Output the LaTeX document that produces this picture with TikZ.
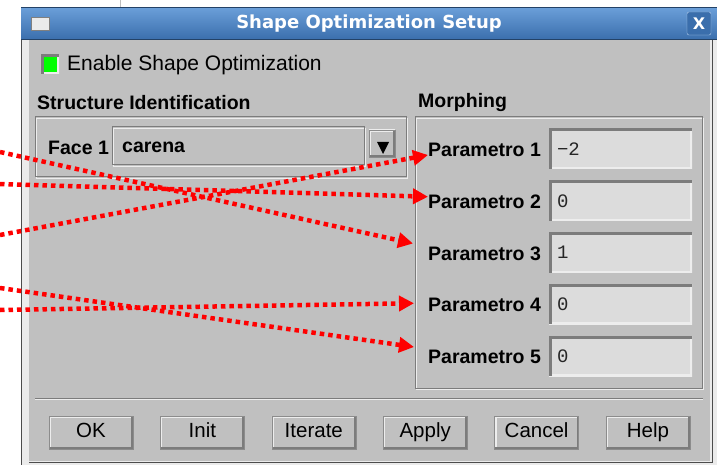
\documentclass[tikz,border=0pt]{standalone}
\usepackage{fontspec}
\setmainfont{Liberation Sans}
\setmonofont{Liberation Mono}
\newfontfamily\titlefont{DejaVu Sans}
\usepackage{tikz}
\usetikzlibrary{arrows.meta}
\usepackage{xcolor}
\definecolor{winbg}{HTML}{C0C0C0}
\definecolor{fieldbg}{HTML}{DCDCDC}
\definecolor{bevdark}{HTML}{7C7C7C}
\definecolor{bevlight}{HTML}{EDEDED}
\definecolor{titletop}{HTML}{6A9ED8}
\definecolor{titlebot}{HTML}{3A6EAC}
\definecolor{arrowred}{HTML}{FF0000}
\tikzset{
  raised/.style={fill=winbg,draw=black!45,line width=0.6pt,
    path picture={
      \draw[bevlight,line width=4pt] (path picture bounding box.south west) |- (path picture bounding box.north east);
      \draw[bevdark,line width=4pt] (path picture bounding box.south west) -| (path picture bounding box.north east);}},
  sunken/.style={fill=fieldbg,draw=none,
    path picture={
      \draw[bevlight,line width=4pt] (path picture bounding box.south west) -| (path picture bounding box.north east);
      \draw[bevdark,line width=5pt] (path picture bounding box.south west) |- (path picture bounding box.north east);}}
}
\newcommand{\etchbox}[4]{%
  \draw[bevlight,line width=1pt] (#1+1.3,#2+1.3) rectangle (#3+1.3,#4+1.3);
  \draw[bevdark,line width=1pt] (#1,#2) rectangle (#3,#4);}

\begin{document}
\begin{tikzpicture}[x=1pt,y=-1pt,font=\fontsize{20}{22}\selectfont,
  lbl/.style={font=\bfseries\fontsize{19.5}{21}\selectfont,anchor=west,inner sep=0pt},
  btn/.style={raised,minimum width=84pt,minimum height=33pt,inner sep=0pt,text height=14.5pt,text depth=4pt,
    font=\fontsize{20.5}{22}\selectfont},
  field/.style={sunken,minimum width=143pt,minimum height=40pt,inner sep=0pt},
  pvalue/.style={font=\ttfamily\fontsize{19}{21}\selectfont,text=black!85,anchor=west,inner sep=0pt},
  dotarrow/.style={arrowred,line width=4.5pt,dash pattern=on 4.5pt off 4pt,-{Triangle[length=15pt,width=15pt]}}]
\useasboundingbox (0,0) rectangle (717,465);
\fill[white] (0,0) rectangle (717,465);
\draw[black!25,line width=1pt] (120,0) -- (120,8);
% window
\fill[black!8] (21,8) rectangle (717,465);
\fill[winbg] (29,40) rectangle (710,461);
\draw[black!70,line width=1pt] (21,465) -- (21,8);
\draw[black!70,line width=1pt] (712,40) -- (712,462) -- (29,462);
\shade[top color=titletop,bottom color=titlebot] (21,8) rectangle (717,40);
\draw[titlebot!60!black,line width=1pt] (21,8) -- (717,8);
\draw[titlebot!60!black,line width=1pt] (21,40) -- (717,40);
\draw[black!50,fill=black!8] (31,17) rectangle (49,30);
\node[text=white,font=\titlefont\bfseries\fontsize{18}{18}\selectfont] (title) at (369,24) {Shape Optimization Setup};
\node[draw=titletop!50!white,fill=titlebot,rounded corners=2pt,minimum width=24pt,minimum height=23pt,inner sep=0pt,
  text=white,font=\titlefont\bfseries\fontsize{16}{16}\selectfont] (close) at (699,23.5) {X};
% enable
\node[sunken,fill=green,minimum width=18pt,minimum height=19pt] (chk) at (50,64.5) {};
\node[lbl,font=\fontsize{21}{22}\selectfont] (enable) at (67,65) {Enable Shape Optimization};
% structure identification
\node[lbl] (structid) at (37,103) {Structure Identification};
\etchbox{35}{117}{406}{177}
\node[lbl] (face) at (48,147.5) {Face 1};
\etchbox{112}{127}{364}{165}
\node[lbl] (carena) at (122,147.5) {carena};
\node[raised,minimum width=26pt,minimum height=27pt,inner sep=0pt] (drop) at (382,143.5) {};
\fill[black] (377,142) -- (389,142) -- (383,154) -- cycle;
% morphing
\node[lbl] (morph) at (418,103) {Morphing};
\etchbox{415}{117}{702}{388}
\foreach \i/\v in {1/−2,2/0,3/1,4/0,5/0}{
  \node[lbl] (p\i) at (428,150+51.75*\i-51.75) {Parametro \i};
  \node[field] (f\i) at (620.5,149+51.75*\i-51.75) {};
  \node[pvalue] (v\i) at ([xshift=8]f\i.west) {\v};
}
% buttons
\draw[bevdark,line width=1pt] (35,398) -- (703,398);
\draw[bevlight,line width=1pt] (35,399.3) -- (703,399.3);
\foreach \b [count=\k] in {OK,Init,Iterate,Apply,Cancel,Help}
  \node[btn] (b\k) at (91+111.4*\k-111.4,432.5) {\b};
% arrows
\coordinate (sA) at (0,152);
\coordinate (sB) at (0,184);
\coordinate (sC) at (0,235);
\coordinate (sD) at (0,288);
\coordinate (sE) at (0,310);
\draw[dotarrow] (sA) -- ([xshift=-15,yshift=10]p3.west);
\draw[dotarrow] (sB) -- ([yshift=5]p2.west);
\draw[dotarrow] (sC) -- ([yshift=-5]p1.west);
\draw[dotarrow] (sD) -- ([xshift=-14,yshift=10]p5.west);
\draw[dotarrow] (sE) -- ([xshift=-14,yshift=2]p4.west);
\end{tikzpicture}
\end{document}
